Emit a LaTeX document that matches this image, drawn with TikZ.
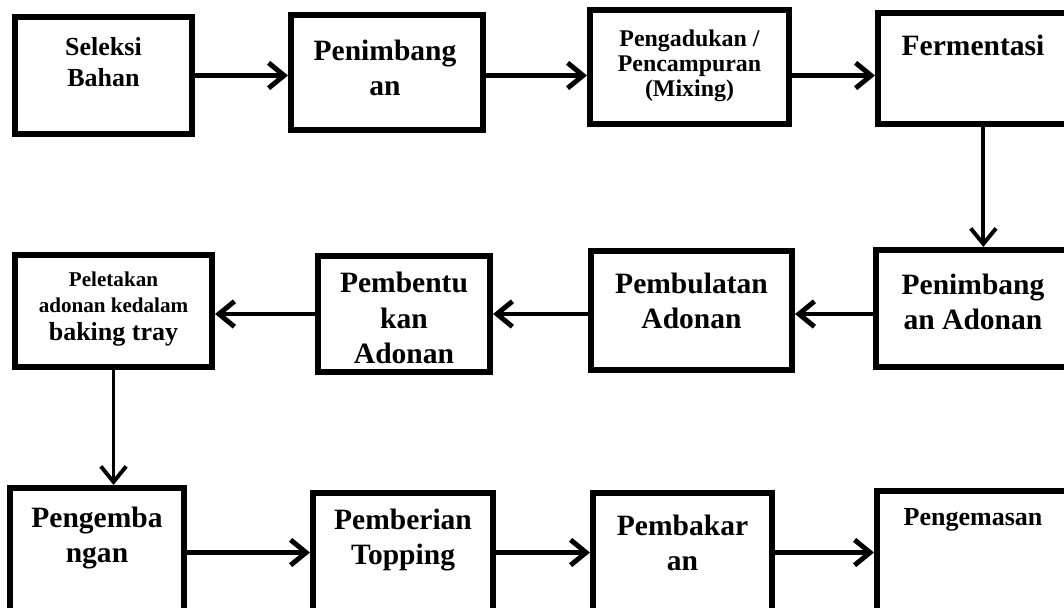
\documentclass[tikz,border=0pt]{standalone}
\usepackage{fontspec}
\setmainfont{Liberation Serif}
\usetikzlibrary{arrows.meta, positioning}

\tikzset{
  stepbox/.style={draw, rectangle, line width=4.3pt, inner sep=0pt},
  big/.style={font=\bfseries\fontsize{21}{25}\selectfont, align=center, inner sep=0pt},
  mid/.style={font=\bfseries\fontsize{18.5}{22}\selectfont, align=center, inner sep=0pt},
  flow/.style={->, line width=3.5pt},
}

\begin{document}
\begin{tikzpicture}[x=0.025cm, y=-0.025cm, >={Straight Barb[length=11pt,width=18pt]}]
    \useasboundingbox (0,0) rectangle (1064,607);
    \clip (0,0) rectangle (1064,607);

    % Baris pertama
    \node[stepbox, minimum width=4.425cm, minimum height=2.925cm] (seleksi) at (103.5,75.5) {};
    \node[stepbox, minimum width=4.8cm, minimum height=2.875cm] (timbang) at (387,72.5) {};
    \node[stepbox, minimum width=4.975cm, minimum height=2.85cm] (aduk) at (689.5,67) {};
    \node[stepbox, minimum width=4.775cm, minimum height=2.775cm] (ferm) at (973.5,68.5) {};

    \node[mid] (tseleksi) at (103.5,62.5) {Seleksi\\Bahan};
    \node[big] (ttimbang) at (385,67.5) {Penimbang\\an};
    \node[align=center, inner sep=0pt, font=\bfseries\fontsize{17}{18}\selectfont] (taduk) at (689.5,66) {Pengadukan /\\Pencampuran\\(Mixing)};
    \node[big] (tferm) at (973,45) {Fermentasi};

    % Baris kedua
    \node[stepbox, minimum width=4.925cm, minimum height=2.8cm] (letak) at (113.5,311) {};
    \node[stepbox, minimum width=4.3cm, minimum height=2.9cm] (bentuk) at (404,314) {};
    \node[stepbox, minimum width=5.025cm, minimum height=2.975cm] (bulat) at (691.5,310.5) {};
    \node[stepbox, minimum width=4.825cm, minimum height=2.925cm] (timbangadn) at (972.5,308.5) {};

    \node[align=center, inner sep=0pt, font=\bfseries\fontsize{15}{18}\selectfont] (tletak) at (113.5,309)
        {Peletakan\\adonan kedalam\\[2pt]{\fontsize{18.5}{22}\selectfont baking tray}};
    \node[big] (tbentuk) at (404,318) {Pembentu\\kan\\Adonan};
    \node[big] (tbulat) at (691.5,301) {Pembulatan\\Adonan};
    \node[big] (ttimbangadn) at (973,302) {Penimbang\\an Adonan};

    % Baris ketiga
    \node[stepbox, minimum width=4.35cm, minimum height=3.225cm] (kembang) at (97,552.5) {};
    \node[stepbox, minimum width=4.5cm, minimum height=3.1cm] (topping) at (403,555) {};
    \node[stepbox, minimum width=4.475cm, minimum height=3.1cm] (bakar) at (682.5,555) {};
    \node[stepbox, minimum width=4.8cm, minimum height=3.15cm] (kemas) at (973,554) {};

    \node[big] (tkembang) at (97,538) {Pengemba\\ngan};
    \node[big] (ttopping) at (403,540) {Pemberian\\Topping};
    \node[big] (tbakar) at (682.5,543) {Pembakar\\an};
    \node[mid] (tkemas) at (973,520) {Pengemasan};

    % Panah
    \foreach \i/\j in {seleksi/timbang, timbang/aduk, aduk/ferm}
        \draw[flow] (\i.east |- seleksi.east) -- (seleksi.east -| \j.west);
    \foreach \i/\j in {timbangadn/bulat, bulat/bentuk, bentuk/letak}
        \draw[flow] (\i.west |- bentuk.west) -- (bentuk.west -| \j.east);
    \foreach \i/\j in {kembang/topping, topping/bakar, bakar/kemas}
        \draw[flow] (\i.east |- kembang.east) -- (kembang.east -| \j.west);

    \draw[flow, line width=2.8pt] ([xshift=7pt]ferm.south) -- ([xshift=7pt]ferm.south |- timbangadn.north);
    \draw[flow, line width=2.8pt] (letak.south) -- (letak.south |- kembang.north);

\end{tikzpicture}
\end{document}
